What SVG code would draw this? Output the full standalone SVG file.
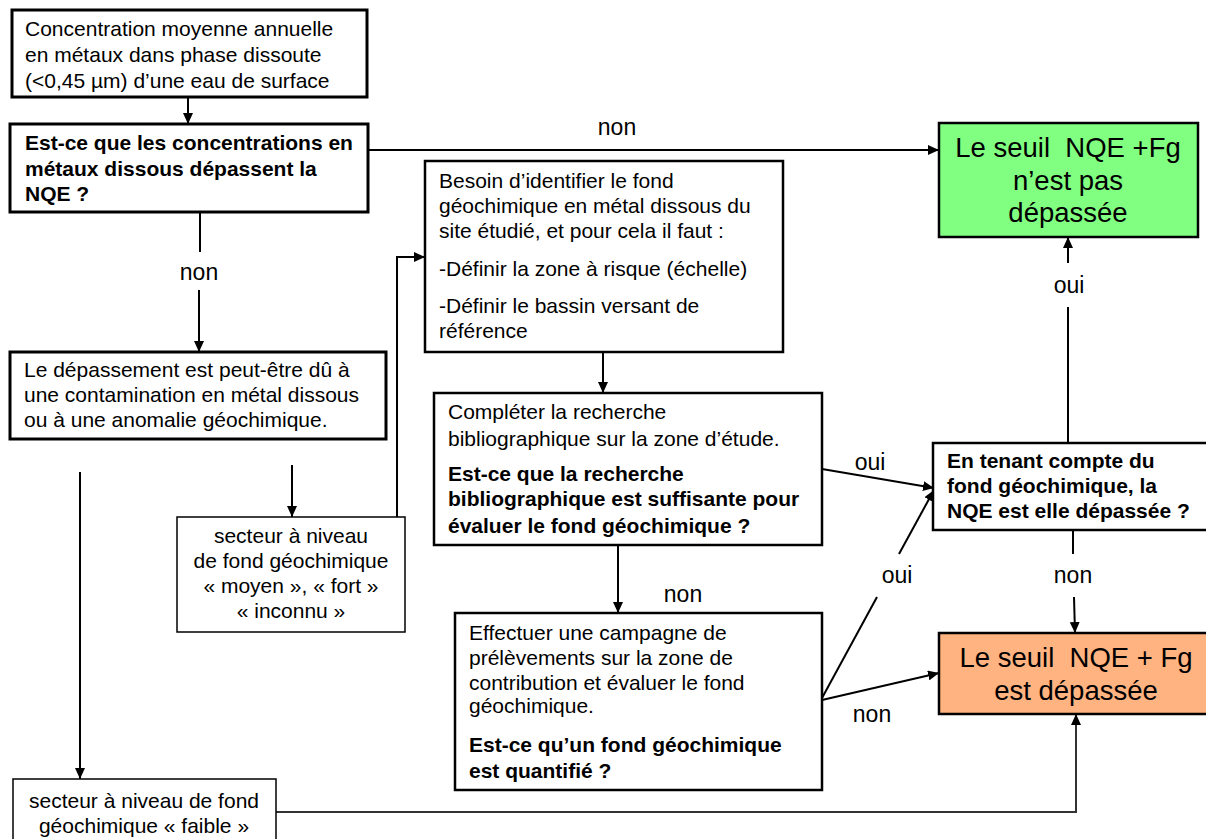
<svg xmlns="http://www.w3.org/2000/svg" width="1206" height="839" viewBox="0 0 1206 839">
<defs>
<marker id="arr" markerUnits="userSpaceOnUse" markerWidth="12" markerHeight="10" refX="11" refY="5" orient="auto">
<path d="M0,0 L11,5 L0,10 z" fill="#000"/>
</marker>
<style>
.box{fill:#fff;stroke:#000;stroke-width:2.5}
.thick{stroke-width:3}
.thin{stroke-width:1.5}
.t{font-family:"Liberation Sans",Arial,sans-serif;font-size:21px;fill:#000}
.b{font-weight:bold}
.c{text-anchor:middle}
.big{font-family:"Liberation Sans",Arial,sans-serif;font-size:27.5px;fill:#000;text-anchor:middle}
.lbl{font-family:"Liberation Sans",Arial,sans-serif;font-size:23px;fill:#000;text-anchor:middle}
.ln{fill:none;stroke:#000;stroke-width:2}
.ln2{fill:none;stroke:#333;stroke-width:2}
</style>
</defs>
<rect width="1206" height="839" fill="#fff"/>

<g id="connectors">
<line class="ln" x1="188" y1="97" x2="188" y2="124" marker-end="url(#arr)"/>
<line class="ln" x1="368" y1="150" x2="939" y2="150" marker-end="url(#arr)"/>
<line class="ln" x1="200" y1="212" x2="200" y2="252"/>
<line class="ln" x1="199" y1="290" x2="199" y2="352" marker-end="url(#arr)"/>
<line class="ln" x1="292" y1="465" x2="292" y2="517" marker-end="url(#arr)"/>
<line class="ln" x1="80" y1="472" x2="80" y2="779" marker-end="url(#arr)"/>
<polyline class="ln" points="397,517 397,257 425,257" marker-end="url(#arr)"/>
<line class="ln" x1="603" y1="352" x2="603" y2="393" marker-end="url(#arr)"/>
<line class="ln" x1="822" y1="469" x2="934" y2="488" marker-end="url(#arr)"/>
<line class="ln" x1="618" y1="545" x2="618" y2="613" marker-end="url(#arr)"/>
<line class="ln" x1="822" y1="698" x2="877" y2="597"/>
<line class="ln" x1="899" y1="554" x2="934" y2="490" marker-end="url(#arr)"/>
<line class="ln" x1="822" y1="700" x2="939" y2="673" marker-end="url(#arr)"/>
<line class="ln" x1="1073" y1="530" x2="1073" y2="554"/>
<line class="ln" x1="1074" y1="597" x2="1075" y2="633" marker-end="url(#arr)"/>
<line class="ln" x1="1068" y1="443" x2="1068" y2="307"/>
<line class="ln" x1="1068" y1="263" x2="1068" y2="237" marker-end="url(#arr)"/>
<polyline class="ln2" points="276,812 1076,812 1076,714" marker-end="url(#arr)"/>
<text class="lbl" x="617" y="135">non</text>
<text class="lbl" x="199" y="280">non</text>
<text class="lbl" x="1069" y="293">oui</text>
<text class="lbl" x="870" y="470">oui</text>
<text class="lbl" x="897" y="583">oui</text>
<text class="lbl" x="683" y="602">non</text>
<text class="lbl" x="872" y="722">non</text>
<text class="lbl" x="1073" y="583">non</text>
</g>

<g id="n1">
<rect class="box thick" x="12" y="10" width="355" height="87"/>
<text class="t" x="25" y="36">Concentration moyenne annuelle</text>
<text class="t" x="25" y="62">en métaux dans phase dissoute</text>
<text class="t" x="25" y="88">(&lt;0,45 µm) d’une eau de surface</text>
</g>

<g id="n2">
<rect class="box thick" x="10" y="124" width="358" height="88"/>
<text class="t b" x="25" y="150">Est-ce que les concentrations en</text>
<text class="t b" x="25" y="176">métaux dissous dépassent la</text>
<text class="t b" x="25" y="201">NQE ?</text>
</g>

<g id="n3">
<rect class="box" x="939" y="123" width="259" height="114" style="fill:#80ff80"/>
<text class="big" x="1068" y="157">Le seuil &#160;NQE +Fg</text>
<text class="big" x="1068" y="190">n’est pas</text>
<text class="big" x="1068" y="222">dépassée</text>
</g>

<g id="n4">
<rect class="box thick" x="10" y="352" width="376" height="87"/>
<text class="t" x="24" y="377">Le dépassement est peut-être dû à</text>
<text class="t" x="24" y="402">une contamination en métal dissous</text>
<text class="t" x="24" y="427">ou à une anomalie géochimique.</text>
</g>

<g id="n5">
<rect class="box thin" x="177" y="517" width="228" height="115"/>
<text class="t c" x="291" y="543">secteur à niveau</text>
<text class="t c" x="291" y="568">de fond géochimique</text>
<text class="t c" x="291" y="593">« moyen », « fort »</text>
<text class="t c" x="291" y="618">« inconnu »</text>
</g>

<g id="n6">
<rect class="box thin" x="13" y="779" width="263" height="70"/>
<text class="t c" x="144" y="808">secteur à niveau de fond</text>
<text class="t c" x="144" y="833">géochimique « faible »</text>
</g>

<g id="n7">
<rect class="box" x="425" y="161" width="358" height="191"/>
<text class="t" x="439" y="188">Besoin d’identifier le fond</text>
<text class="t" x="439" y="213">géochimique en métal dissous du</text>
<text class="t" x="439" y="238">site étudié, et pour cela il faut :</text>
<text class="t" x="439" y="276">-Définir la zone à risque (échelle)</text>
<text class="t" x="439" y="313">-Définir le bassin versant de</text>
<text class="t" x="439" y="338">référence</text>
</g>

<g id="n8">
<rect class="box" x="434" y="393" width="388" height="152"/>
<text class="t" x="448" y="419">Compléter la recherche</text>
<text class="t" x="448" y="446">bibliographique sur la zone d’étude.</text>
<text class="t b" x="448" y="481">Est-ce que la recherche</text>
<text class="t b" x="448" y="506">bibliographique est suffisante pour</text>
<text class="t b" x="448" y="533">évaluer le fond géochimique ?</text>
</g>

<g id="n9">
<rect class="box" x="455" y="613" width="367" height="177"/>
<text class="t" x="469" y="640">Effectuer une campagne de</text>
<text class="t" x="469" y="665">prélèvements sur la zone de</text>
<text class="t" x="469" y="690">contribution et évaluer le fond</text>
<text class="t" x="469" y="713">géochimique.</text>
<text class="t b" x="469" y="752">Est-ce qu’un fond géochimique</text>
<text class="t b" x="469" y="778">est quantifié ?</text>
</g>

<g id="n10">
<rect class="box" x="933" y="443" width="276" height="87"/>
<text class="t b" x="947" y="468">En tenant compte du</text>
<text class="t b" x="947" y="493">fond géochimique, la</text>
<text class="t b" x="947" y="518">NQE est elle dépassée ?</text>
</g>

<g id="n11">
<rect class="box" x="939" y="633" width="270" height="81" style="fill:#ffb380"/>
<text class="big" x="1076" y="667">Le seuil &#160;NQE + Fg</text>
<text class="big" x="1076" y="700">est dépassée</text>
</g>
</svg>
